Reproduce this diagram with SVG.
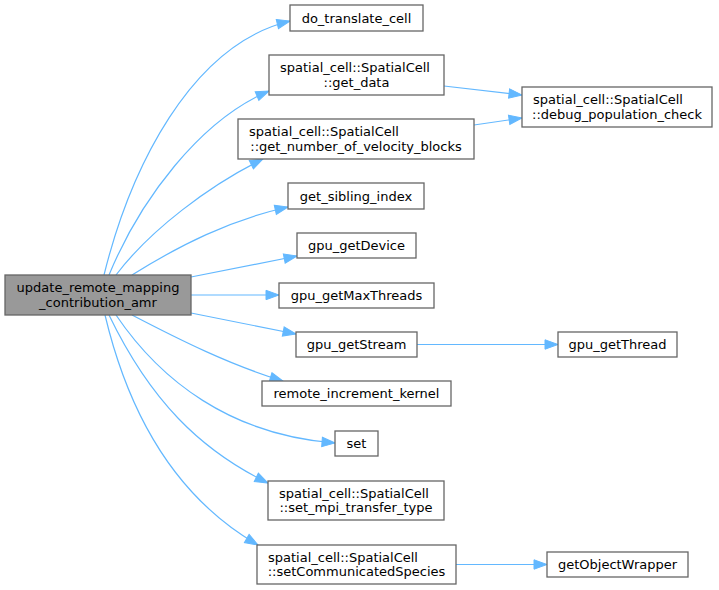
<svg xmlns="http://www.w3.org/2000/svg" width="719" height="590" viewBox="0 0 719 590">
<style>
.nd rect{fill:#ffffff;stroke:#666666;stroke-width:1.3}
#main rect{fill:#999999;stroke:#666666}
text{font-family:"DejaVu Sans",sans-serif;font-size:13px;fill:#000000}
.c{text-anchor:middle}
.l{text-anchor:start}
#edges path{fill:none;stroke:#63b8ff;stroke-width:1.2}
</style>
<defs>
<marker id="arr" markerUnits="userSpaceOnUse" markerWidth="16" markerHeight="12" refX="13" refY="5" orient="auto" overflow="visible">
<path d="M0,0.3 L13,5 L0,9.7 Z" fill="#63b8ff" stroke="#63b8ff" stroke-width="1"/>
</marker>
</defs>
<rect width="719" height="590" fill="#ffffff"/>
<g id="edges">
<path d="M104,275 C130,170 190,45 290,21" marker-end="url(#arr)"/>
<path d="M109,275 C140,200 200,120 269,91" marker-end="url(#arr)"/>
<path d="M116,275 C150,230 210,185 263,159" marker-end="url(#arr)"/>
<path d="M132,275 C180,245 230,220 288,207" marker-end="url(#arr)"/>
<path d="M191,277 L297,256" marker-end="url(#arr)"/>
<path d="M191,295 L279,295" marker-end="url(#arr)"/>
<path d="M191,313 L296,334" marker-end="url(#arr)"/>
<path d="M132,315 C180,340 230,365 283,381" marker-end="url(#arr)"/>
<path d="M116,315 C160,380 230,435 335,443" marker-end="url(#arr)"/>
<path d="M109,315 C150,400 200,450 268,483" marker-end="url(#arr)"/>
<path d="M105,315 C130,420 180,500 258,545" marker-end="url(#arr)"/>
<path d="M444,86 L522,95" marker-end="url(#arr)"/>
<path d="M474,125 L522,118" marker-end="url(#arr)"/>
<path d="M417,344.5 L558,344.5" marker-end="url(#arr)"/>
<path d="M456,564.5 L547,564.5" marker-end="url(#arr)"/>
</g>
<g id="main" class="nd"><rect x="5" y="275" width="186" height="40"/><text class="c" x="98" y="292">update_remote_mapping</text><text class="c" x="98" y="306.5">_contribution_amr</text></g>
<g id="n_do_translate_cell" class="nd"><rect x="290" y="5" width="133" height="26"/><text class="c" x="356.5" y="22.5">do_translate_cell</text></g>
<g id="n_get_data" class="nd"><rect x="269" y="55" width="175" height="40"/><text class="l" x="280" y="72">spatial_cell::SpatialCell</text><text class="c" x="356.5" y="86.5">::get_data</text></g>
<g id="n_get_number_of_velocity_blocks" class="nd"><rect x="238" y="119" width="236" height="40"/><text class="l" x="249" y="136">spatial_cell::SpatialCell</text><text class="c" x="356" y="150.5">::get_number_of_velocity_blocks</text></g>
<g id="n_debug_population_check" class="nd"><rect x="522" y="87" width="190" height="40"/><text class="l" x="533" y="104">spatial_cell::SpatialCell</text><text class="c" x="617" y="118.5">::debug_population_check</text></g>
<g id="n_get_sibling_index" class="nd"><rect x="288" y="183" width="136" height="26"/><text class="c" x="356" y="200.5">get_sibling_index</text></g>
<g id="n_gpu_getDevice" class="nd"><rect x="297" y="233" width="119" height="25"/><text class="c" x="356.5" y="250">gpu_getDevice</text></g>
<g id="n_gpu_getMaxThreads" class="nd"><rect x="279" y="283" width="155" height="25"/><text class="c" x="356.5" y="300">gpu_getMaxThreads</text></g>
<g id="n_gpu_getStream" class="nd"><rect x="296" y="332" width="121" height="25"/><text class="c" x="356.5" y="349">gpu_getStream</text></g>
<g id="n_gpu_getThread" class="nd"><rect x="558" y="332" width="119" height="25"/><text class="c" x="617.5" y="349">gpu_getThread</text></g>
<g id="n_remote_increment_kernel" class="nd"><rect x="262" y="381" width="189" height="25"/><text class="c" x="356.5" y="398">remote_increment_kernel</text></g>
<g id="n_set" class="nd"><rect x="335" y="431" width="43" height="25"/><text class="c" x="356.5" y="448">set</text></g>
<g id="n_set_mpi_transfer_type" class="nd"><rect x="268" y="481" width="176" height="39"/><text class="l" x="279" y="497.5">spatial_cell::SpatialCell</text><text class="c" x="356" y="512">::set_mpi_transfer_type</text></g>
<g id="n_setCommunicatedSpecies" class="nd"><rect x="257" y="545" width="199" height="39"/><text class="l" x="268" y="561.5">spatial_cell::SpatialCell</text><text class="c" x="356.5" y="576">::setCommunicatedSpecies</text></g>
<g id="n_getObjectWrapper" class="nd"><rect x="547" y="552" width="141" height="25"/><text class="c" x="617.5" y="569">getObjectWrapper</text></g>
</svg>
